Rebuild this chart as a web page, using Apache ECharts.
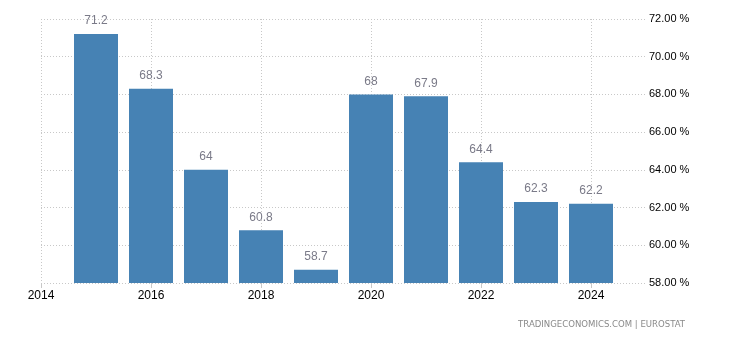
<!DOCTYPE html>
<html>
<head>
<meta charset="utf-8">
<script src="https://cdn.jsdelivr.net/npm/echarts@6/dist/echarts.min.js"></script>
<style>
  html, body { margin: 0; padding: 0; background: #fff; }
  #chart { width: 730px; height: 340px; }
</style>
</head>
<body>
<div id="chart"></div>
<script>
// Annual values, one bar per year (padding years at both ends have no bar)
const years = ['2014', '2015', '2016', '2017', '2018', '2019', '2020', '2021', '2022', '2023', '2024', '2025'];
const values = [null, 71.2, 68.3, 64, 60.8, 58.7, 68, 67.9, 64.4, 62.3, 62.2, null];
const yTicks = { min: 58, max: 72, step: 2 };
const sourceText = 'TRADINGECONOMICS.COM | EUROSTAT';

const chart = echarts.init(document.getElementById('chart'));
const evenYear = (i) => i % 2 === 0 && i < years.length - 1;
const gridLine = { color: '#c8c8c8', type: [1, 2], width: 1 };

chart.setOption({
  animation: false,
  grid: { left: 41, right: 84, top: 19, bottom: 57 },
  xAxis: {
    type: 'category',
    data: years,
    boundaryGap: false,
    axisLine: { show: false },
    axisTick: {
      show: true,
      interval: evenYear,
      length: 5,
      lineStyle: { color: '#c8c8c8' }
    },
    axisLabel: {
      interval: evenYear,
      color: '#000',
      fontFamily: 'Liberation Sans',
      fontSize: 12,
      margin: 7
    },
    splitLine: { show: true, interval: evenYear, lineStyle: gridLine }
  },
  yAxis: {
    type: 'value',
    position: 'right',
    min: yTicks.min,
    max: yTicks.max,
    interval: yTicks.step,
    axisLine: { show: false },
    axisTick: { show: false },
    axisLabel: {
      color: '#000',
      fontFamily: 'Liberation Sans',
      fontSize: 11,
      margin: 3,
      formatter: (v) => v.toFixed(2) + ' %'
    },
    splitLine: { lineStyle: gridLine }
  },
  series: [{
    type: 'bar',
    data: values,
    barWidth: 44,
    itemStyle: { color: '#4682b4' },
    label: {
      show: true,
      position: 'top',
      distance: 7,
      color: '#7a7a88',
      fontFamily: 'Liberation Sans',
      fontSize: 12,
      formatter: (p) => String(p.value)
    }
  }],
  graphic: [{
    type: 'text',
    right: 45,
    top: 320,
    style: {
      text: sourceText,
      fill: '#8a8a8a',
      font: '9.5px "Liberation Sans Narrow", "DejaVu Sans Condensed", sans-serif'
    }
  }]
});
</script>
</body>
</html>
